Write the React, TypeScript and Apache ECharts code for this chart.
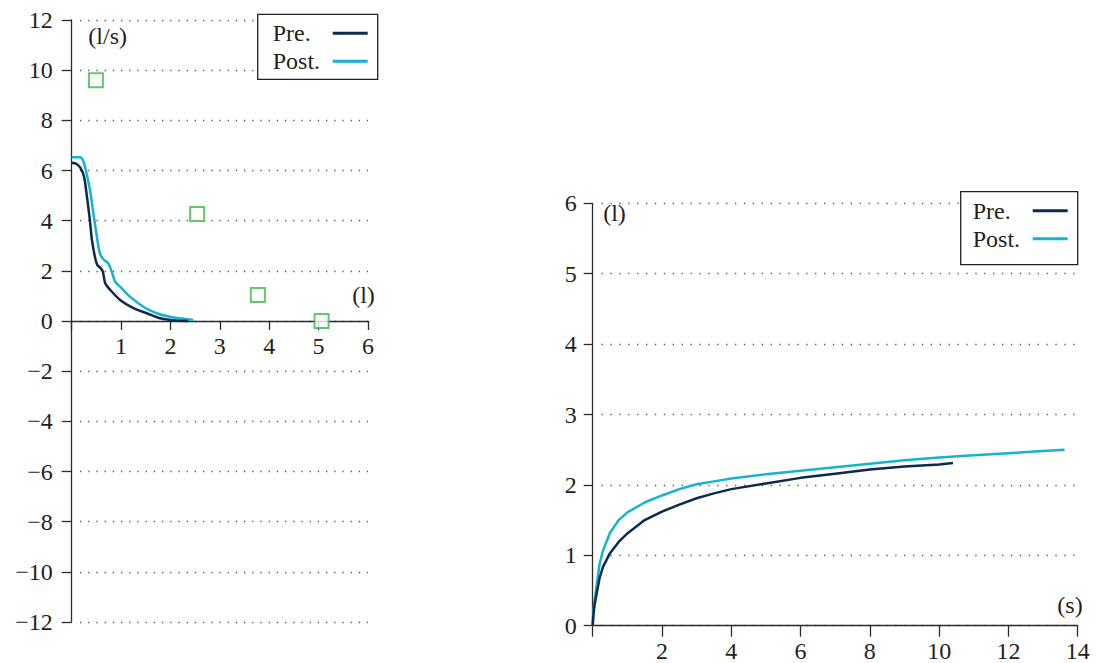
import React, { useEffect, useRef } from "react";
import * as echarts from "echarts";

// Flow–volume (left): volume (l) vs flow (l/s)
const fvPreVolume = [0, 0.1, 0.18, 0.25, 0.3, 0.36, 0.41, 0.47, 0.52, 0.59, 0.63, 0.65, 0.68, 0.78, 0.98, 1.25, 1.52, 1.79, 2.06, 2.36];
const fvPreFlow = [6.31, 6.26, 6.09, 5.75, 5.09, 4.16, 3.23, 2.56, 2.23, 2.1, 1.97, 1.77, 1.5, 1.24, 0.84, 0.51, 0.31, 0.11, 0.03, 0.0];
const fvPostVolume = [0, 0.17, 0.24, 0.3, 0.37, 0.44, 0.51, 0.57, 0.64, 0.74, 0.81, 0.88, 0.98, 1.18, 1.45, 1.72, 1.99, 2.46];
const fvPostFlow = [6.53, 6.53, 6.35, 5.89, 5.22, 4.29, 3.36, 2.7, 2.46, 2.3, 1.97, 1.57, 1.37, 0.97, 0.57, 0.31, 0.17, 0.04];
const predVolume = [0.49, 2.54, 3.77, 5.06];
const predFlow = [9.6, 4.27, 1.04, 0];

// Volume–time (right): time (s) vs volume (l)
const vtPreTime = [0, 0.02, 0.05, 0.1, 0.2, 0.3, 0.5, 0.75, 1, 1.5, 2, 2.5, 3, 3.5, 4, 5, 6, 7, 8, 9, 10, 10.4];
const vtPreVolume = [0, 0.15, 0.28, 0.42, 0.68, 0.84, 1.03, 1.19, 1.31, 1.5, 1.62, 1.72, 1.81, 1.88, 1.94, 2.02, 2.1, 2.16, 2.22, 2.26, 2.29, 2.31];
const vtPostTime = [0, 0.02, 0.05, 0.1, 0.2, 0.3, 0.5, 0.75, 1, 1.5, 2, 2.5, 3, 3.5, 4, 5, 6, 7, 8, 9, 10, 11, 12, 13, 13.62];
const vtPostVolume = [0, 0.2, 0.35, 0.52, 0.88, 1.07, 1.32, 1.5, 1.61, 1.75, 1.85, 1.94, 2.01, 2.05, 2.09, 2.15, 2.2, 2.25, 2.3, 2.35, 2.39, 2.42, 2.45, 2.48, 2.5];

const legendNames = ["Pre.", "Post."];
const axisNames = { flow: "(l/s)", volume: "(l)", time: "(s)" };

const NAVY = "#0c2a50";
const CYAN = "#14b5cc";
const GREEN = "#44b54b";
const TEXT = "#231f20";
const AXIS = "#2b2b2b";
const FONT = "Liberation Serif";
const FS = 24;

const zip = (a: number[], b: number[]) => a.map((v, i) => [v, b[i]]);
const minus = (v: number) => (v < 0 ? "\u2212" + -v : String(v));

export default function App() {
  const ref = useRef<HTMLDivElement>(null);
  useEffect(() => {
    if (!ref.current) return;
    const chart = echarts.init(ref.current, null, { renderer: "svg" });
    const axisLine = { show: true, onZero: false, lineStyle: { color: AXIS, width: 1.3 } };
    const label = { color: TEXT, fontFamily: FONT, fontSize: FS };
    const dotted = (gap: number) => ({
      show: true,
      lineStyle: { color: "#555", width: 1.3, type: [1.3, gap] as any },
    });
    const nameText = (text: string, x: number, y: number) => ({
      type: "text", x, y,
      style: { text, fill: TEXT, fontFamily: FONT, fontSize: FS, align: "center", verticalAlign: "middle" },
    });
    const legendBase = {
      orient: "vertical",
      align: "right",
      data: legendNames,
      icon: "rect",
      itemWidth: 35,
      itemHeight: 3,
      itemGap: 4,
      selectedMode: false,
      borderColor: "#222",
      borderWidth: 1.3,
      backgroundColor: "#fff",
      formatter: "{t|{name}}",
      textStyle: {
        color: TEXT, fontFamily: FONT, fontSize: FS, lineHeight: 22,
        rich: { t: { width: 55, align: "left", color: TEXT, fontFamily: FONT, fontSize: FS, lineHeight: 22 } },
      },
    };
    chart.setOption({
      animation: false,
      textStyle: { fontFamily: FONT, fontSize: FS },
      grid: [
        { left: 71.7, top: 20, width: 296.3, height: 602 },
        { left: 80, top: 20, width: 288, height: 602 },
        { left: 592.7, top: 203.3, width: 485, height: 422.4 },
        { left: 601.5, top: 203.3, width: 476.2, height: 422.4 },
      ],
      xAxis: [
        {
          gridIndex: 0, type: "value", min: 0, max: 6, interval: 1, position: "bottom", offset: -301,
          axisLine, axisTick: { show: true, length: 9, lineStyle: { color: AXIS, width: 1.3 } },
          axisLabel: { ...label, margin: 13, formatter: (v: number) => (v === 0 ? "" : String(v)) },
          splitLine: { show: false },
        },
        { gridIndex: 1, type: "value", min: 0, max: 1, show: false },
        {
          gridIndex: 2, type: "value", min: 0, max: 14, interval: 2,
          axisLine, axisTick: { show: true, length: 11, lineStyle: { color: AXIS, width: 1.3 } },
          axisLabel: { ...label, margin: 13, formatter: (v: number) => (v === 0 ? "" : String(v)) },
          splitLine: { show: false },
        },
        { gridIndex: 3, type: "value", min: 0, max: 1, show: false },
      ],
      yAxis: [
        {
          gridIndex: 0, type: "value", min: -12, max: 12, interval: 2,
          axisLine,
          axisTick: { show: true, length: 10, lineStyle: { color: AXIS, width: 1.3 } },
          axisLabel: { ...label, margin: 19, formatter: minus },
          splitLine: { show: false },
        },
        {
          gridIndex: 1, type: "value", min: -12, max: 12, interval: 2,
          axisLine: { show: false }, axisTick: { show: false }, axisLabel: { show: false },
          splitLine: dotted(6.9),
        },
        {
          gridIndex: 2, type: "value", min: 0, max: 6, interval: 1,
          axisLine,
          axisTick: { show: true, length: 9, lineStyle: { color: AXIS, width: 1.3 } },
          axisLabel: { ...label, margin: 16, formatter: minus },
          splitLine: { show: false },
        },
        {
          gridIndex: 3, type: "value", min: 0, max: 6, interval: 1,
          axisLine: { show: false }, axisTick: { show: false }, axisLabel: { show: false },
          splitLine: dotted(7.6),
        },
      ],
      legend: [
        { ...legendBase, left: 257.7, top: 14.3, padding: [7, 10, 6, 15] },
        { ...legendBase, left: 960.7, top: 191.7, padding: [7, 10, 14, 12] },
      ],
      graphic: [
        nameText(axisNames.flow, 107.7, 35.5),
        nameText(axisNames.volume, 363.5, 295),
        nameText(axisNames.volume, 614.5, 213),
        nameText(axisNames.time, 1070, 605),
      ],
      series: [
        {
          name: "Pre.", type: "line", xAxisIndex: 0, yAxisIndex: 0, data: zip(fvPreVolume, fvPreFlow),
          showSymbol: false, smooth: 0.3, itemStyle: { color: NAVY }, lineStyle: { color: NAVY, width: 2.5 }, z: 3,
        },
        {
          name: "Post.", type: "line", xAxisIndex: 0, yAxisIndex: 0, data: zip(fvPostVolume, fvPostFlow),
          showSymbol: false, smooth: 0.3, itemStyle: { color: CYAN }, lineStyle: { color: CYAN, width: 2.5 }, z: 2,
        },
        {
          name: "Predicted", type: "scatter", xAxisIndex: 0, yAxisIndex: 0, data: zip(predVolume, predFlow),
          symbol: "rect", symbolSize: 14, itemStyle: { color: "#fff", borderColor: GREEN, borderWidth: 2 }, z: 4,
        },
        {
          name: "Pre.", type: "line", xAxisIndex: 2, yAxisIndex: 2, data: zip(vtPreTime, vtPreVolume),
          showSymbol: false, smooth: false, itemStyle: { color: NAVY }, lineStyle: { color: NAVY, width: 2.5, join: "round" }, z: 3,
        },
        {
          name: "Post.", type: "line", xAxisIndex: 2, yAxisIndex: 2, data: zip(vtPostTime, vtPostVolume),
          showSymbol: false, smooth: false, itemStyle: { color: CYAN }, lineStyle: { color: CYAN, width: 2.5, join: "round" }, z: 2,
        },
      ],
    });
    return () => chart.dispose();
  }, []);
  return (
    <div
      ref={ref}
      style={{ position: "fixed", left: 0, top: 0, width: 1096, height: 663, background: "#fff" }}
    />
  );
}
